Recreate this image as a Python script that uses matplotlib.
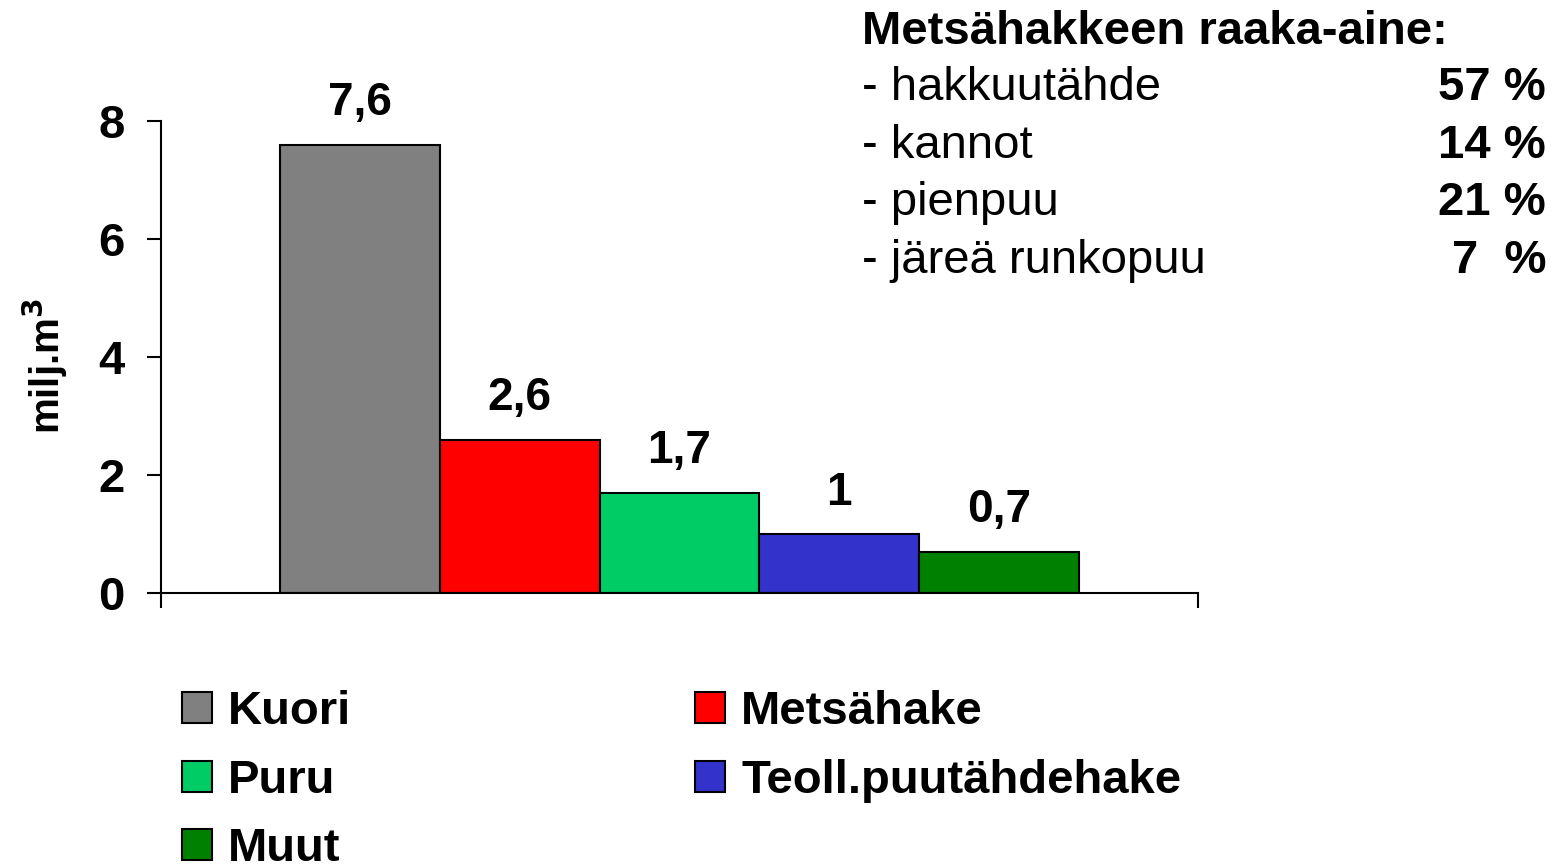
import matplotlib

matplotlib.use("Agg", force=True)
import matplotlib.pyplot as plt
from matplotlib.patches import Patch

plt.rcParams["font.family"] = ["Liberation Sans", "DejaVu Sans"]

categories = ["Kuori", "Metsähake", "Puru", "Teoll.puutähdehake", "Muut"]
values = [7.6, 2.6, 1.7, 1.0, 0.7]
value_labels = ["7,6", "2,6", "1,7", "1", "0,7"]
colors = ["#808080", "#FF0000", "#00CC66", "#3333CC", "#008000"]
yticks = [0, 2, 4, 6, 8]

raw_title = "Metsähakkeen raaka-aine:"
raw_names = ["- hakkuutähde", "- kannot", "- pienpuu", "- järeä runkopuu"]
raw_shares = ["57 %", "14 %", "21 %", "7  %"]

fig = plt.figure(figsize=(15.56, 8.65), dpi=100)
ax = fig.add_axes([0.1035, 0.3145, 0.6664, 0.5457])

bar_w = 0.154
start = 0.5 - bar_w * len(values) / 2
handles = []
for i, (cat, val, lab, col) in enumerate(zip(categories, values, value_labels, colors)):
    x = start + bar_w * (i + 0.5)
    ax.bar(x, val, width=bar_w, color=col, edgecolor="black", linewidth=1.5)
    ax.annotate(lab, (x, val), xytext=(0, 21), textcoords="offset points",
                ha="center", va="baseline", fontsize=33, fontweight="bold")
    handles.append(Patch(facecolor=col, edgecolor="black", linewidth=1.5, label=cat))

ax.set_xlim(0, 1)
ax.set_ylim(0, 8)
ax.set_yticks(yticks)
ax.set_yticklabels([str(t) for t in yticks], fontsize=34, fontweight="bold")
ax.set_xticks([0, 1])
ax.set_xticklabels([])
ax.tick_params(axis="y", direction="out", length=10, width=1.5, pad=16)
ax.tick_params(axis="x", direction="out", length=11, width=1.5)
ax.spines["top"].set_visible(False)
ax.spines["right"].set_visible(False)
ax.spines["left"].set_linewidth(1.5)
ax.spines["bottom"].set_linewidth(1.5)
ax.set_ylabel(r"milj.m$^\mathbf{3}$", fontsize=29, fontweight="bold")
ax.yaxis.set_label_coords(-0.088, 0.48)

order = [0, 2, 4, 1, 3]
fig.legend([handles[i] for i in order], [categories[i] for i in order],
           loc="upper left", bbox_to_anchor=(0.1048, 0.2238), ncol=2,
           frameon=False, prop={"size": 34, "weight": "bold"},
           handlelength=0.64, handleheight=0.64, handletextpad=0.34,
           columnspacing=7.27, labelspacing=0.52, borderaxespad=0)

fig.text(862 / 1556, 1 - 32 / 865, raw_title, fontsize=34, fontweight="bold",
         ha="left", va="center")
for k, (name, share) in enumerate(zip(raw_names, raw_shares)):
    y = 1 - (88 + 57.7 * k) / 865
    fig.text(862 / 1556, y, name, fontsize=34, ha="left", va="center")
    fig.text(1546 / 1556, y, share, fontsize=34, fontweight="bold", ha="right", va="center")

fig.savefig("out.png", dpi=100)
